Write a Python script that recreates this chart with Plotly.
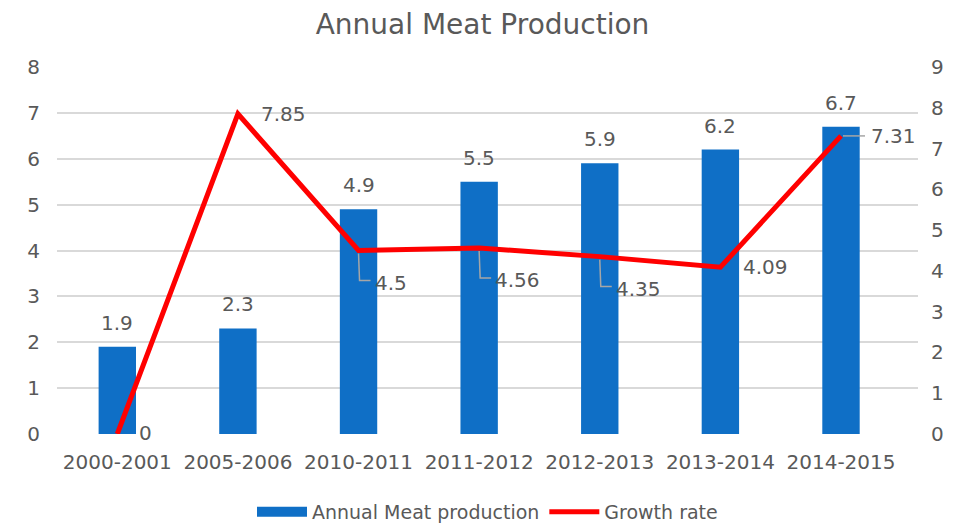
import plotly.graph_objects as go

categories = ["2000-2001", "2005-2006", "2010-2011", "2011-2012", "2012-2013", "2013-2014", "2014-2015"]
production = [1.9, 2.3, 4.9, 5.5, 5.9, 6.2, 6.7]
growth = [0, 7.85, 4.5, 4.56, 4.35, 4.09, 7.31]
# label placement for growth-rate labels
growth_label_pos = ["right0", "right", "below", "below", "below", "right", "leader_right"]

TXT = "#595959"
FONT = "DejaVu Sans"
BLUE = "#0F6FC6"

fig = go.Figure()
fig.add_trace(go.Bar(
    x=categories, y=production, name="Annual Meat production",
    marker=dict(color=BLUE, line=dict(width=0)), width=0.31, showlegend=False,
))
# legend-only entry with wide swatch for the bars
fig.add_trace(go.Scatter(
    x=[None], y=[None], name="Annual Meat production", mode="lines",
    line=dict(color=BLUE, width=14),
))
fig.add_trace(go.Scatter(
    x=categories, y=growth, name="Growth rate", yaxis="y2", mode="lines",
    line=dict(color="#FF0000", width=5), cliponaxis=False,
))

annotations = []
shapes = []
for c, v in zip(categories, production):
    annotations.append(dict(x=c, y=v, xref="x", yref="y", text=str(v), showarrow=False,
                            xanchor="center", yanchor="bottom", yshift=10))
for c, v, p in zip(categories, growth, growth_label_pos):
    if p == "right0":
        annotations.append(dict(x=c, y=v, xref="x", yref="y2", text=str(v), showarrow=False,
                                xanchor="left", yanchor="middle", xshift=20, yshift=1))
    elif p == "right":
        annotations.append(dict(x=c, y=v, xref="x", yref="y2", text=str(v), showarrow=False,
                                xanchor="left", yanchor="middle", xshift=21, yshift=0))
    elif p == "below":
        annotations.append(dict(x=c, y=v, xref="x", yref="y2", text=str(v), showarrow=False,
                                xanchor="left", yanchor="middle", xshift=14, yshift=-32))
        shapes.append(dict(type="path", xref="x", yref="y2", xsizemode="pixel", ysizemode="pixel",
                           xanchor=c, yanchor=v, path="M 0,-3 L 1,-30 L 12,-30",
                           line=dict(color="#A6A6A6", width=1.5)))
    elif p == "leader_right":
        annotations.append(dict(x=c, y=v, xref="x", yref="y2", text=str(v), showarrow=False,
                                xanchor="left", yanchor="middle", xshift=28, yshift=0))
        shapes.append(dict(type="path", xref="x", yref="y2", xsizemode="pixel", ysizemode="pixel",
                           xanchor=c, yanchor=v, path="M 2,0 L 24,0",
                           line=dict(color="#A6A6A6", width=1.5)))
for a in annotations:
    a["font"] = dict(size=20, color=TXT, family=FONT)

fig.update_layout(
    width=949, height=515,
    paper_bgcolor="white", plot_bgcolor="white",
    margin=dict(l=49, r=39, t=59, b=89, autoexpand=False),
    title=dict(text="Annual Meat Production", x=0.5, xanchor="center", y=0.968, yanchor="middle",
               font=dict(size=28, color=TXT, family=FONT), automargin=False),
    font=dict(family=FONT, color=TXT, size=20),
    xaxis=dict(showgrid=False, showline=False, tickfont=dict(size=20, color=TXT), ticks="",
               automargin=False, ticklabelstandoff=14),
    yaxis=dict(range=[0, 8], dtick=1, showgrid=True, gridcolor="#D9D9D9", gridwidth=1.5,
               zeroline=False, showline=False, ticks="", ticklabelstandoff=16, automargin=False,
               tickfont=dict(size=20, color=TXT)),
    yaxis2=dict(range=[0, 9], dtick=1, overlaying="y", side="right", showgrid=False,
                zeroline=False, showline=False, ticks="", ticklabelstandoff=12, automargin=False,
                tickfont=dict(size=20, color=TXT)),
    legend=dict(orientation="h", x=0.5, xanchor="center", y=-0.2125, yanchor="middle",
                font=dict(size=19, color=TXT), itemwidth=50, tracegroupgap=0),
    annotations=annotations, shapes=shapes,
    showlegend=True,
)

fig.write_html("out.html")
